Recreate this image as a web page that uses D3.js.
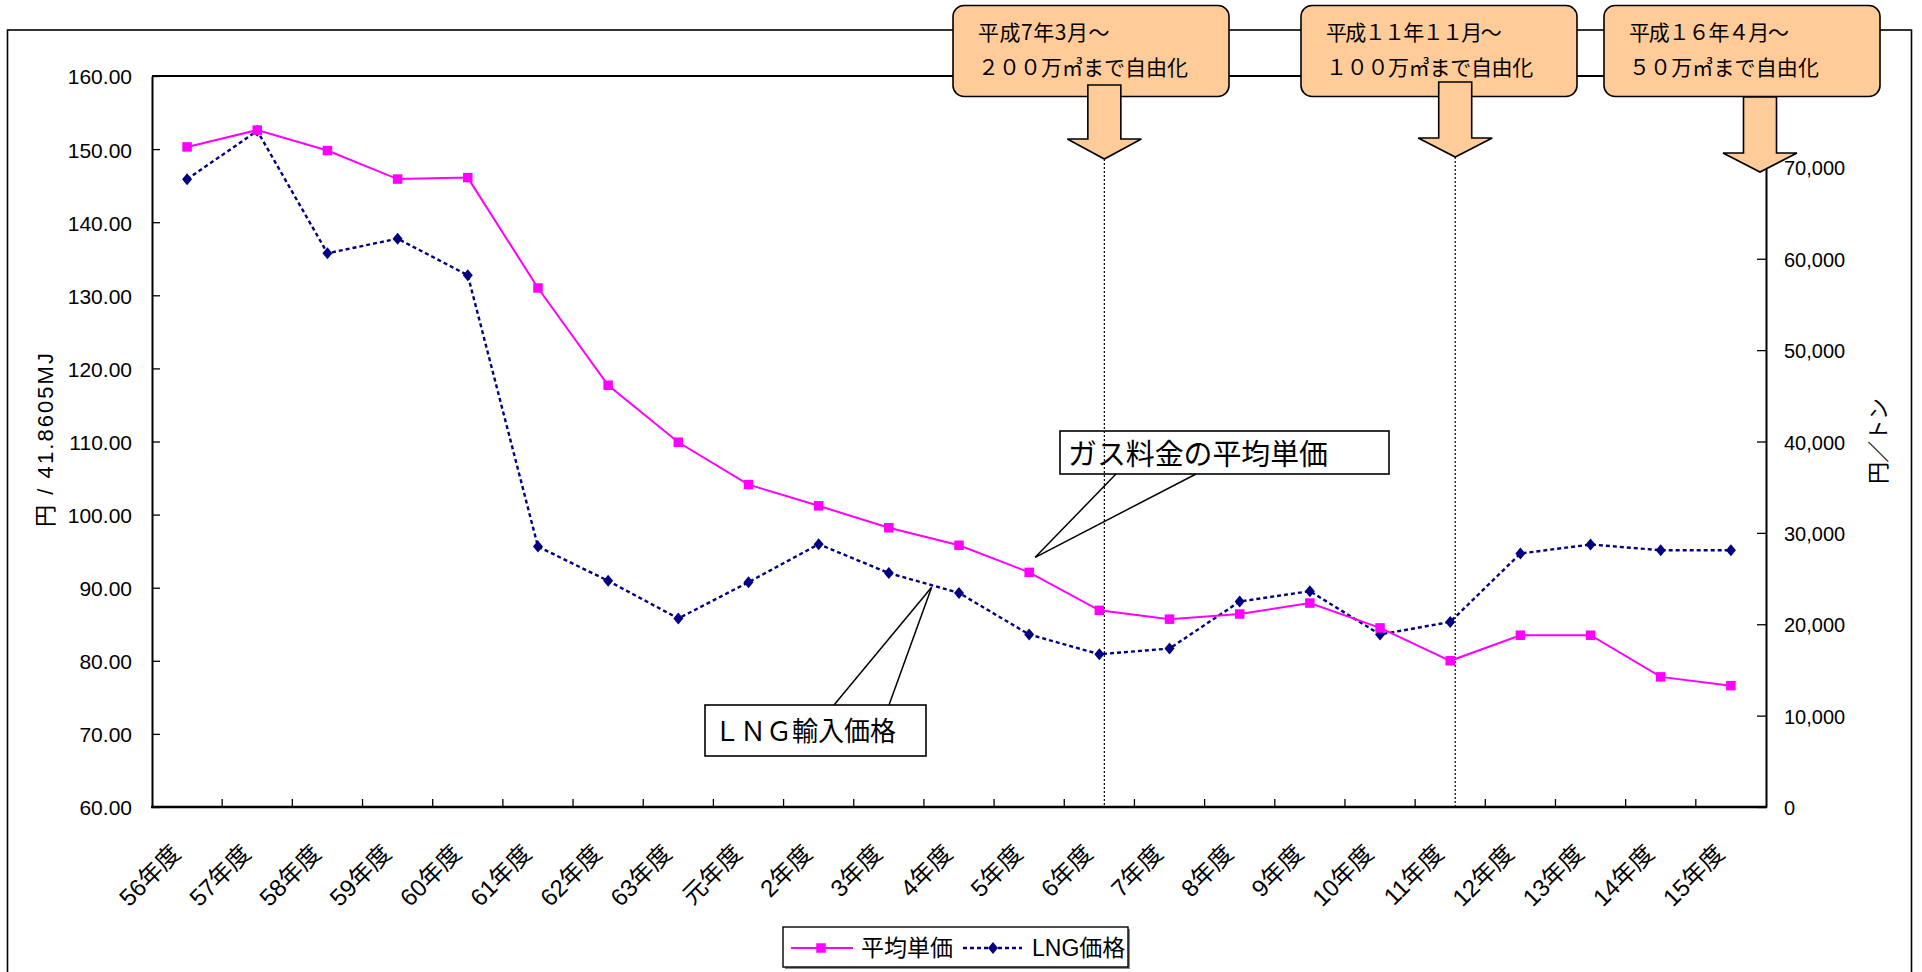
<!DOCTYPE html>
<html lang="ja">
<head>
<meta charset="utf-8">
<title>ガス料金の平均単価とLNG輸入価格</title>
<script src="https://cdn.jsdelivr.net/npm/d3@7"></script>
<style>
  html, body { margin: 0; padding: 0; background: #fff; }
  svg { display: block; }
  text { font-family: "Liberation Sans", Arial, "Noto Sans CJK JP", sans-serif; fill: #000; }
  .cjk { font-family: "Noto Sans CJK JP", sans-serif; }
</style>
</head>
<body>
<svg id="chart" width="1922" height="972"></svg>
<script>
// Fiscal years (昭和56年度 … 平成15年度)
const categories = ["56年度","57年度","58年度","59年度","60年度","61年度","62年度","63年度","元年度",
  "2年度","3年度","4年度","5年度","6年度","7年度","8年度","9年度","10年度","11年度","12年度","13年度","14年度","15年度"];

// 平均単価 (円/41.8605MJ), left axis
const avgPrice = [150.3, 152.6, 149.8, 145.9, 146.1, 131.0, 117.7, 109.9, 104.1,
  101.2, 98.2, 95.8, 92.1, 86.9, 85.7, 86.4, 87.9, 84.5, 80.0, 83.5, 83.5, 77.8, 76.6];

// LNG価格 (円/トン), right axis
const lngPrice = [68700, 74000, 60600, 62200, 58200, 28500, 24750, 20630, 24600,
  28760, 25600, 23430, 18880, 16720, 17340, 22490, 23620, 18880, 20250, 27740, 28730, 28100, 28100];

const leftTicks = [60, 70, 80, 90, 100, 110, 120, 130, 140, 150, 160];
const rightTicks = [0, 10000, 20000, 30000, 40000, 50000, 60000, 70000, 80000];

// Liberalisation milestones
const milestones = [
  { line1: "平成7年3月～", line2: "２００万㎥まで自由化", after: "6年度" },
  { line1: "平成１１年１１月～", line2: "１００万㎥まで自由化", after: "11年度" },
  { line1: "平成１６年４月～", line2: "５０万㎥まで自由化", after: null }
];

const seriesNames = ["平均単価", "LNG価格"];

// ---- layout ----
const plot = { left: 152, right: 1766, top: 76, bottom: 807 };
const svg = d3.select("#chart");

const x = d3.scaleBand().domain(categories).range([plot.left, plot.right]);
const xc = c => x(c) + x.bandwidth() / 2;
const yL = d3.scaleLinear().domain([60, 160]).range([plot.bottom, plot.top]);
const yR = d3.scaleLinear().domain([0, 80000]).range([plot.bottom, plot.top]);

const pink = "#FF00FF", navy = "#000080", peach = "#FFCC99";

// Fit a text to a target width by adjusting the letter spacing
function fitWidth(sel, width) {
  sel.each(function (d, i) {
    const w = typeof width === "function" ? width(d, i) : width;
    const n = this.textContent.length;
    const natural = this.getComputedTextLength();
    d3.select(this).attr("letter-spacing", ((w - natural) / n).toFixed(2));
  });
}

// Outer frame
svg.append("rect").attr("x", 7.5).attr("y", 30).attr("width", 1904).attr("height", 1000)
  .attr("fill", "none").attr("stroke", "#000").attr("stroke-width", 1.6);

// Plot area top edge
svg.append("line").attr("x1", plot.left).attr("x2", plot.right)
  .attr("y1", plot.top).attr("y2", plot.top).attr("stroke", "#000").attr("stroke-width", 2);

// Left axis
const gL = svg.append("g").attr("transform", `translate(${plot.left},0)`)
  .call(d3.axisLeft(yL).tickValues(leftTicks).tickFormat(d3.format(".2f"))
    .tickSize(-8).tickSizeOuter(0).tickPadding(20));
gL.select(".domain").attr("stroke-width", 2);
gL.selectAll(".tick line").attr("stroke-width", 1.3);
gL.selectAll(".tick text").attr("font-size", 21).attr("dy", "0.38em")
  .style("font-family", '"Liberation Sans", Arial, sans-serif');

// Right axis
const gR = svg.append("g").attr("transform", `translate(${plot.right},0)`)
  .call(d3.axisRight(yR).tickValues(rightTicks).tickFormat(d3.format(","))
    .tickSize(-9).tickSizeOuter(0).tickPadding(18));
gR.select(".domain").attr("stroke-width", 2);
gR.selectAll(".tick line").attr("stroke-width", 1.3);
gR.selectAll(".tick text").attr("font-size", 20).attr("dy", "0.38em")
  .style("font-family", '"Liberation Sans", Arial, sans-serif');

// Category axis
svg.append("line").attr("x1", plot.left - 1).attr("x2", plot.right + 1)
  .attr("y1", plot.bottom).attr("y2", plot.bottom).attr("stroke", "#000").attr("stroke-width", 2.4);
svg.append("g").selectAll("line").data(categories.slice(1)).join("line")
  .attr("x1", d => x(d)).attr("x2", d => x(d))
  .attr("y1", plot.bottom).attr("y2", plot.bottom - 8)
  .attr("stroke", "#000").attr("stroke-width", 1.3);
svg.append("g").selectAll("text").data(categories).join("text")
  .attr("transform", d => `translate(${xc(d) - 5},${plot.bottom + 48}) rotate(-45)`)
  .attr("text-anchor", "end").attr("font-size", 24).text(d => d);

// Axis titles
svg.append("text").attr("transform", "translate(53,440) rotate(-90)")
  .attr("text-anchor", "middle").attr("font-size", 22)
  .attr("textLength", 174).attr("lengthAdjust", "spacing")
  .text("円 / 41.8605MJ");
svg.append("text").attr("transform", "translate(1886,441) rotate(-90)")
  .attr("text-anchor", "middle").attr("font-size", 22).attr("class", "cjk")
  .attr("textLength", 86).attr("lengthAdjust", "spacing")
  .text("円／トン");

// Milestone dotted lines
const msX = m => m.after ? xc(m.after) + 5 : plot.right - 6;
const arrowGeom = [
  { top: 85, neck: 139, tip: 159 },
  { top: 82, neck: 138, tip: 157 },
  { top: 97, neck: 153, tip: 172 }
];
svg.append("g").selectAll("line").data(milestones.filter(m => m.after)).join("line")
  .attr("x1", msX).attr("x2", msX)
  .attr("y1", (m, i) => arrowGeom[i].tip).attr("y2", plot.bottom)
  .attr("stroke", "#000").attr("stroke-width", 1.2).attr("stroke-dasharray", "2,2");

// Series: LNG価格 (dotted navy, diamonds)
const diamond = "M0,-6L5,0L0,6L-5,0Z";
svg.append("path").datum(lngPrice)
  .attr("d", d3.line().x((d, i) => xc(categories[i])).y(d => yR(d)))
  .attr("fill", "none").attr("stroke", navy).attr("stroke-width", 2.4)
  .attr("stroke-dasharray", "4,3");
svg.append("g").selectAll("path").data(lngPrice).join("path")
  .attr("d", diamond)
  .attr("transform", (d, i) => `translate(${xc(categories[i])},${yR(d)})`)
  .attr("fill", navy);

// Series: 平均単価 (solid magenta, squares)
svg.append("path").datum(avgPrice)
  .attr("d", d3.line().x((d, i) => xc(categories[i])).y(d => yL(d)))
  .attr("fill", "none").attr("stroke", pink).attr("stroke-width", 2);
svg.append("g").selectAll("rect").data(avgPrice).join("rect")
  .attr("x", (d, i) => xc(categories[i]) - 4.75).attr("y", d => yL(d) - 4.75)
  .attr("width", 9.5).attr("height", 9.5).attr("fill", pink);

// Callout: ガス料金の平均単価
{
  const tipX = xc("5年度") + 6, tipY = yL(avgPrice[12]) - 15;
  const g = svg.append("g");
  g.append("line").attr("x1", 1116).attr("y1", 474).attr("x2", tipX).attr("y2", tipY)
    .attr("stroke", "#000").attr("stroke-width", 1.5);
  g.append("line").attr("x1", 1196).attr("y1", 474).attr("x2", tipX).attr("y2", tipY)
    .attr("stroke", "#000").attr("stroke-width", 1.5);
  g.append("rect").attr("x", 1060).attr("y", 431).attr("width", 329).attr("height", 43)
    .attr("fill", "none").attr("stroke", "#000").attr("stroke-width", 1.6);
  g.append("text").attr("class", "cjk").attr("x", 1068).attr("y", 465)
    .attr("font-size", 29).attr("textLength", 260).attr("lengthAdjust", "spacingAndGlyphs")
    .text("ガス料金の平均単価");
}

// Callout: ＬＮＧ輸入価格
{
  const i3 = categories.indexOf("3年度");
  const t = 0.61;
  const tipX = xc(categories[i3]) + t * x.step();
  const tipY = yR(lngPrice[i3] + t * (lngPrice[i3 + 1] - lngPrice[i3])) + 2;
  const g = svg.append("g");
  g.append("line").attr("x1", 834).attr("y1", 705).attr("x2", tipX).attr("y2", tipY)
    .attr("stroke", "#000").attr("stroke-width", 1.5);
  g.append("line").attr("x1", 889).attr("y1", 705).attr("x2", tipX).attr("y2", tipY)
    .attr("stroke", "#000").attr("stroke-width", 1.5);
  g.append("rect").attr("x", 705).attr("y", 705).attr("width", 221).attr("height", 51)
    .attr("fill", "#fff").attr("stroke", "#000").attr("stroke-width", 1.6);
  g.append("text").attr("class", "cjk").attr("x", 714).attr("y", 741)
    .attr("font-size", 27).attr("textLength", 182).attr("lengthAdjust", "spacingAndGlyphs")
    .text("ＬＮＧ輸入価格");
}

// Milestone boxes
const boxX = [953, 1301, 1604];
const line1Len = [132, 174, 159], line2Len = [210, 207, 190];
const boxes = svg.append("g").selectAll("g").data(milestones).join("g");
boxes.append("rect")
  .attr("x", (d, i) => boxX[i]).attr("y", 5.5).attr("width", 276).attr("height", 91)
  .attr("rx", 11).attr("ry", 11)
  .attr("fill", peach).attr("stroke", "#000").attr("stroke-width", 1.6);
boxes.append("text").attr("class", "cjk")
  .attr("x", (d, i) => boxX[i] + 25).attr("y", 40).attr("font-size", 21)
  .text(d => d.line1)
  .call(fitWidth, (d, i) => line1Len[i]);
boxes.append("text").attr("class", "cjk")
  .attr("x", (d, i) => boxX[i] + 25).attr("y", 75).attr("font-size", 21)
  .text(d => d.line2)
  .call(fitWidth, (d, i) => line2Len[i]);

// Block arrows
const shaftHalf = 16.5, headHalf = 37;
svg.append("g").selectAll("path").data(milestones).join("path")
  .attr("d", (m, i) => {
    const cx = msX(m), a = arrowGeom[i];
    return `M${cx - shaftHalf},${a.top}L${cx + shaftHalf},${a.top}L${cx + shaftHalf},${a.neck}` +
      `L${cx + headHalf},${a.neck}L${cx},${a.tip}L${cx - headHalf},${a.neck}` +
      `L${cx - shaftHalf},${a.neck}Z`;
  })
  .attr("fill", peach).attr("stroke", "#000").attr("stroke-width", 1.6)
  .attr("stroke-linejoin", "miter");

// Legend
{
  const g = svg.append("g");
  g.append("rect").attr("x", 785).attr("y", 929).attr("width", 345).attr("height", 40)
    .attr("fill", "#888");
  g.append("rect").attr("x", 783).attr("y", 927).attr("width", 345).attr("height", 40)
    .attr("fill", "#fff").attr("stroke", "#000").attr("stroke-width", 1.4);
  const ly = 948;
  g.append("line").attr("x1", 791).attr("x2", 853).attr("y1", ly).attr("y2", ly)
    .attr("stroke", pink).attr("stroke-width", 2);
  g.append("rect").attr("x", 821 - 4.75).attr("y", ly - 4.75).attr("width", 9.5).attr("height", 9.5)
    .attr("fill", pink);
  g.append("text").attr("x", 861).attr("y", ly + 8).attr("font-size", 23).text(seriesNames[0]);
  g.append("line").attr("x1", 963).attr("x2", 1022).attr("y1", ly).attr("y2", ly)
    .attr("stroke", navy).attr("stroke-width", 2.3).attr("stroke-dasharray", "4,3");
  g.append("path").attr("d", diamond).attr("transform", `translate(993,${ly})`).attr("fill", navy);
  g.append("text").attr("x", 1032).attr("y", ly + 8).attr("font-size", 23).text(seriesNames[1]);
}
</script>
</body>
</html>
